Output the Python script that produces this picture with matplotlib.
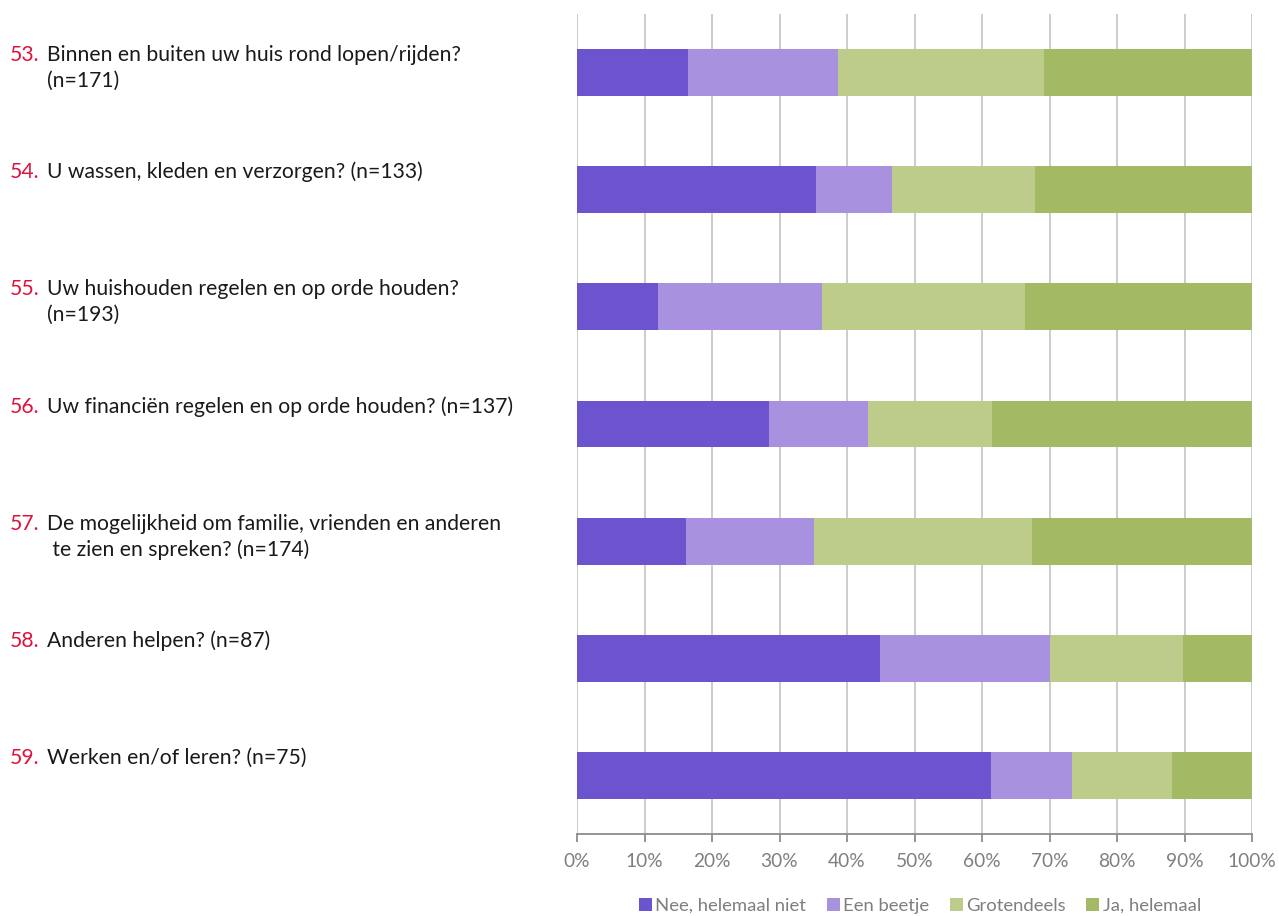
import matplotlib
matplotlib.use("Agg")
import matplotlib.pyplot as plt
from matplotlib.patches import Patch
from matplotlib.transforms import blended_transform_factory, ScaledTranslation
import numpy as np

plt.rcParams['font.family'] = ['Lato', 'DejaVu Sans']

numbers = ["53.", "54.", "55.", "56.", "57.", "58.", "59."]
questions = [
    "Binnen en buiten uw huis rond lopen/rijden?\n(n=171)",
    "U wassen, kleden en verzorgen? (n=133)",
    "Uw huishouden regelen en op orde houden?\n(n=193)",
    "Uw financiën regelen en op orde houden? (n=137)",
    "De mogelijkheid om familie, vrienden en anderen\n te zien en spreken? (n=174)",
    "Anderen helpen? (n=87)",
    "Werken en/of leren? (n=75)",
]
series_names = ["Nee, helemaal niet", "Een beetje", "Grotendeels", "Ja, helemaal"]
nee = [16.4, 35.4, 12.0, 28.4, 16.1, 44.9, 61.3]
beetje = [22.3, 11.3, 24.3, 14.7, 19.0, 25.2, 12.0]
grotendeels = [30.5, 21.2, 30.1, 18.4, 32.3, 19.7, 14.8]
ja = [30.8, 32.1, 33.6, 38.5, 32.6, 10.2, 11.9]
colors = ["#6B54CD", "#A892DF", "#BDCC8B", "#A3B963"]
ticks = list(range(0, 101, 10))
tick_labels = [f"{t}%" for t in ticks]

W, H = 1279, 916
fig = plt.figure(figsize=(W / 100, H / 100), dpi=100)
ax = fig.add_axes([577 / W, 1 - 834 / H, (1252 - 577) / W, (834 - 14) / H])

y = np.arange(len(questions))
left = np.zeros(len(questions))
for vals, col, name in zip([nee, beetje, grotendeels, ja], colors, series_names):
    ax.barh(y, vals, left=left, height=0.4, color=col, label=name, zorder=3)
    left += np.array(vals)

ax.set_xlim(0, 100)
ax.set_ylim(len(questions) - 0.5, -0.5)
ax.set_xticks(ticks)
ax.set_xticklabels(tick_labels, fontsize=13.8, color="#7F7F7F")
ax.set_yticks([])
ax.grid(axis="x", color="#C8C8C8", linewidth=1.3, zorder=0)
for s in ["top", "right", "left"]:
    ax.spines[s].set_visible(False)
ax.spines["bottom"].set_color("#8C8C8C")
ax.spines["bottom"].set_linewidth(1.3)
ax.tick_params(axis="x", length=6, width=1.3, color="#8C8C8C", pad=8)

# question labels in the left margin, one text per line
trans = blended_transform_factory(fig.transFigure, ax.transData)
line_step = 0.26  # inches between lines
for i, (num, q) in enumerate(zip(numbers, questions)):
    off = ScaledTranslation(0, 0.115, fig.dpi_scale_trans)
    fig.text(10 / W, i, num, transform=trans + off, color="#E0123C",
             fontsize=15.2, va="baseline", ha="left")
    for k, line in enumerate(q.split("\n")):
        off_k = ScaledTranslation(0, 0.115 - k * line_step, fig.dpi_scale_trans)
        fig.text(47 / W, i, line, transform=trans + off_k, color="#1A1A1A",
                 fontsize=15.2, va="baseline", ha="left")

handles = [Patch(facecolor=c, edgecolor="none") for c in colors]
fig.legend(handles, series_names, loc="center", bbox_to_anchor=(920 / W, 1 - 906 / H),
           ncol=4, frameon=False, fontsize=13.3, labelcolor="#7F7F7F",
           handlelength=0.7, handleheight=0.7, handletextpad=0.2, columnspacing=1.1)

fig.savefig("out.png", dpi=100)
